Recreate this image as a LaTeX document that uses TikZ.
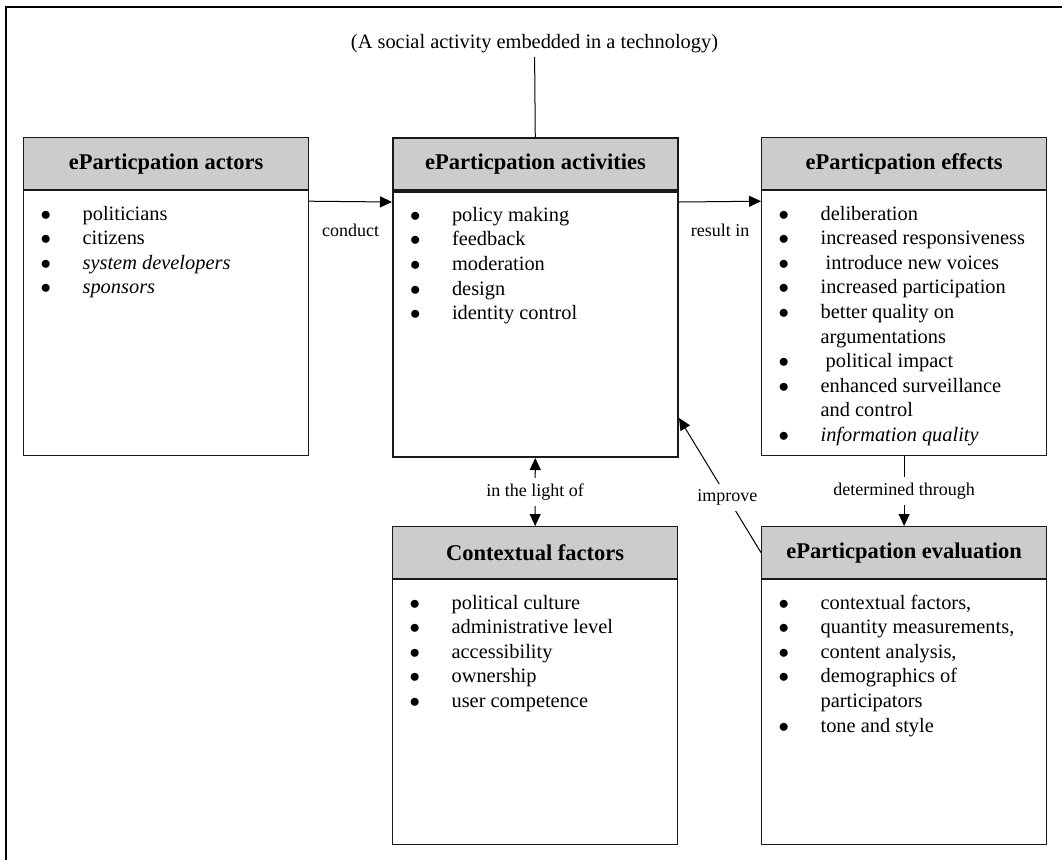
\documentclass[tikz,border=0pt]{standalone}
\usepackage{fontspec}
\setmainfont{Liberation Serif}
\usetikzlibrary{arrows.meta}
\newcommand\bul{\hspace*{17pt}\makebox[42pt][l]{$\bullet$}}
\newcommand\cont{\hspace*{59pt}}
\newcommand\boxlist[2]{\parbox[t][#1][t]{285pt}{\vspace*{12pt}\strut#2}}
\tikzset{
  hdr/.style={draw=black!90, line width=1.2pt, fill=black!20, minimum width=285pt, minimum height=52pt, inner sep=0pt, anchor=north west, font=\bfseries\fontsize{22.5}{27}\selectfont},
  lst/.style={draw=black!90, line width=1.2pt, inner sep=0pt, anchor=north, font=\fontsize{20.4}{24.6}\selectfont},
  lbl/.style={font=\fontsize{18}{22}\selectfont, inner sep=3pt},
  arr/.style={line width=1pt, -{Triangle[length=12pt,width=11pt]}}
}

\begin{document}
\begin{tikzpicture}[x=1pt,y=-1pt]
			%%%%% START %%%%%
			\useasboundingbox (0,0) rectangle (1062,860);
			\draw[line width=2pt] (6,860) -- (6,7) -- (1062,7);
			
			\node[font=\fontsize{20.4}{24}\selectfont] (tech) at (534.5,44) {(A social activity embedded in a technology)};
			
			\node[hdr] (actH) at (23,137) {eParticpation actors};
			\node[lst] (actB) at (actH.south) {\boxlist{265pt}{\bul politicians\\
				\bul citizens\\
				\bul \textit{system developers}\\
				\bul \textit{sponsors}}};
			
			\node[hdr, line width=2pt] (actvH) at (392,137) {eParticpation activities};
			\node[lst, line width=2pt] (actvB) at (actvH.south) {\boxlist{265pt}{\bul policy making\\
				\bul feedback\\
				\bul moderation\\
				\bul design\\
				\bul identity control}};
			
			\node[hdr] (effH) at (761,137) {eParticpation effects};
			\node[lst] (effB) at (effH.south) {\boxlist{265pt}{\bul deliberation\\
				\bul increased responsiveness\\
				\bul\ introduce new voices\\
				\bul increased participation\\
				\bul better quality on\\
				\cont argumentations\\
				\bul\ political impact\\
				\bul enhanced surveillance\\
				\cont and control\\
				\bul \textit{information quality}}};
			
			\node[hdr] (ctxH) at (392,526) {Contextual factors};
			\node[lst] (ctxB) at (ctxH.south) {\boxlist{265pt}{\bul political culture\\
				\bul administrative level\\
				\bul accessibility\\
				\bul ownership\\
				\bul user competence}};
			
			\node[hdr] (evH) at (761,526) {eParticpation evaluation};
			\node[lst] (evB) at (evH.south) {\boxlist{265pt}{\bul contextual factors,\\
				\bul quantity measurements,\\
				\bul content analysis,\\
				\bul demographics of\\
				\cont participators\\
				\bul tone and style}};
			
			\draw[line width=1pt] (tech) -- (actvH);
			\draw[arr] ([yshift=-11pt]actH.south east) -- node[lbl, yshift=-29pt] {conduct} ([yshift=-11pt]actvH.south west);
			\draw[arr] ([yshift=-11pt]actvH.south east) -- node[lbl, yshift=-29pt] {result in} ([yshift=-11pt]effH.south west);
			\draw[line width=1pt, {Triangle[length=12pt,width=11pt]}-{Triangle[length=12pt,width=11pt]}] (actvB) -- node[lbl, fill=white, inner ysep=6pt] {in the light of} (ctxH);
			\draw[arr] (effB) -- node[lbl, fill=white, inner ysep=6pt] {determined through} (evH);
			\coordinate (impEnd) at ([yshift=40pt]actvB.south east);
			\draw[arr] (evH.west) -- node[lbl, fill=white, pos=0.41, inner ysep=6pt] {improve} (impEnd);
			
			%%%%% END %%%%%
\end{tikzpicture}
\end{document}
